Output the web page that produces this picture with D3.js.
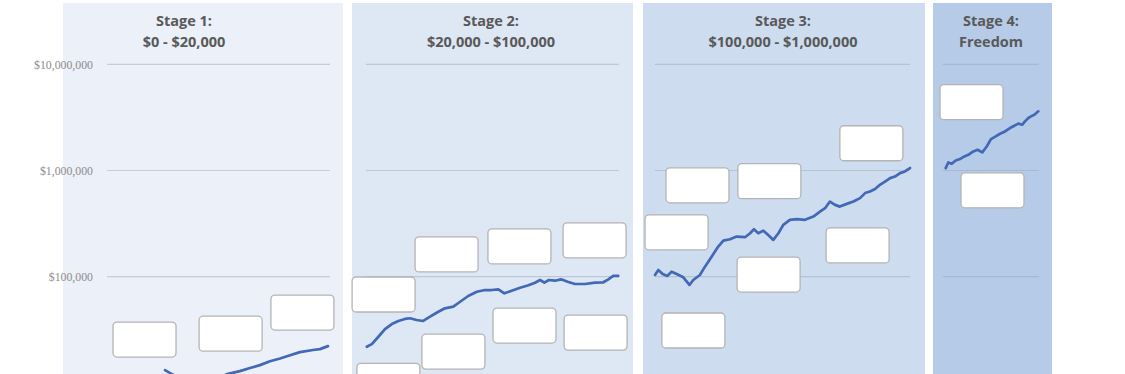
<!DOCTYPE html>
<html>
<head>
<meta charset="utf-8">
<script src="https://cdnjs.cloudflare.com/ajax/libs/d3/7.8.5/d3.min.js"></script>
<style>
  html, body { margin: 0; padding: 0; background: #ffffff; }
  svg { display: block; }
</style>
</head>
<body>
<svg id="chart" width="1125" height="374"></svg>
<script>
// ---------------- DATA ----------------
const stageTitles = ["Stage 1:", "Stage 2:", "Stage 3:", "Stage 4:"];
const stageSubtitles = ["$0 - $20,000", "$20,000 - $100,000", "$100,000 - $1,000,000", "Freedom"];
const yTickValues = [100000, 1000000, 10000000];

// time index (0-100 within each stage) and net worth in $
const stage1T = [26.0, 29.1, 35.0, 41.7, 48.4, 53.8, 59.6, 64.1, 68.6, 73.1, 77.6, 80.7, 86.5, 92.4, 95.5, 99.1];
const stage1V = [13200, 12100, 10600, 10000, 10600, 12100, 12900, 13800, 14700, 16000, 17000, 17800, 19500, 20400, 20800, 22200];

const stage2T = [0.3, 2.3, 4.9, 7.5, 10.2, 12.8, 15.4, 17.4, 20.0, 22.6, 25.3, 28.6, 31.2, 34.5, 37.2, 40.4, 43.8, 47.0, 49.7, 52.3, 54.7, 57.6, 60.9, 64.2, 66.8, 68.8, 70.5, 72.3, 74.7, 77.1, 79.7, 82.6, 86.6, 90.5, 93.8, 95.8, 97.7, 99.7];
const stage2V = [21900, 23200, 27200, 32100, 35800, 38300, 40000, 40600, 39100, 38300, 42000, 46800, 50400, 52200, 58100, 65800, 72200, 74900, 74900, 76100, 69700, 73800, 78800, 83000, 87800, 93100, 87800, 93100, 91700, 94500, 89700, 85400, 85400, 87800, 88600, 94500, 101600, 101600];

const stage3T = [0, 1.3, 3.0, 4.8, 6.5, 8.5, 11.1, 13.5, 15.0, 17.6, 19.6, 22.2, 24.8, 26.8, 29.4, 32.0, 35.3, 37.3, 38.8, 40.5, 42.5, 44.4, 46.4, 48.4, 50.3, 52.9, 55.6, 58.8, 62.1, 64.7, 66.7, 68.6, 70.6, 72.5, 75.2, 77.8, 80.4, 82.4, 84.3, 86.3, 88.2, 90.2, 92.2, 94.1, 96.1, 98.0, 100];
const stage3V = [103800, 115600, 106000, 101600, 111400, 106000, 98700, 83600, 93100, 103800, 124300, 154400, 192000, 218600, 225500, 238500, 235400, 256600, 279800, 256600, 271500, 247000, 222000, 256600, 307600, 342900, 348300, 342900, 368200, 410400, 441700, 510000, 474500, 457000, 485000, 510000, 549600, 612700, 634600, 668500, 733000, 787600, 847600, 877900, 944700, 979000, 1055000];

const stage4T = [2.8, 5.5, 9.1, 13.2, 17.7, 22.2, 26.4, 31.6, 36.1, 40.9, 45.5, 50.0, 54.9, 59.4, 64.6, 69.8, 74.3, 78.4, 82.6, 85.4, 88.9, 91.7, 95.1, 99.3];
const stage4V = [1054000, 1190000, 1157000, 1242000, 1281000, 1357000, 1406000, 1511000, 1567000, 1479000, 1684000, 1977000, 2093000, 2218000, 2333000, 2512000, 2641000, 2760000, 2698000, 2899000, 3121000, 3230000, 3352000, 3607000];

// blank annotation placeholders: top-left corner in (time index, $) per stage
const stage1BoxT = [2.7, 41.3, 73.5];
const stage1BoxV = [37400, 42500, 67200];
const stage2BoxT = [19.4, 48.2, 77.9, -5.5, 22.1, 50.2, 78.3, -3.6];
const stage2BoxV = [237000, 282000, 321000, 99400, 28800, 50700, 43500, 15300];
const stage3BoxT = [72.5, 4.3, 32.5, -3.9, 67.1, 32.2, 2.7];
const stage3BoxV = [2640000, 1060000, 1160000, 382000, 288000, 153000, 45500];
const stage4BoxT = [-3.1, 18.75];
const stage4BoxV = [6430000, 951000];

// ---------------- LAYOUT ----------------
const W = 1125, H = 374;
const panels = [
  { bg: [63, 343], plot: [107, 330], fill: "#ebf0f9", head: 184 },
  { bg: [352, 633], plot: [366, 619], fill: "#dee7f4", head: 491 },
  { bg: [643, 925], plot: [655, 910], fill: "#cddcef", head: 783 },
  { bg: [933, 1052], plot: [943, 1039], fill: "#b5cbe8", head: 991 }
];
const series = [
  { t: stage1T, v: stage1V, bt: stage1BoxT, bv: stage1BoxV },
  { t: stage2T, v: stage2V, bt: stage2BoxT, bv: stage2BoxV },
  { t: stage3T, v: stage3V, bt: stage3BoxT, bv: stage3BoxV },
  { t: stage4T, v: stage4V, bt: stage4BoxT, bv: stage4BoxV }
];
const boxW = 63, boxH = 35;

const svg = d3.select("#chart");
const y = d3.scaleLog().domain([1e5, 1e7]).range([276.7, 64.3]);

const defs = svg.append("defs");
const blur = defs.append("filter").attr("id", "soft").attr("x", "-5%").attr("y", "-5%").attr("width", "110%").attr("height", "110%");
blur.append("feGaussianBlur").attr("stdDeviation", 0.6);

// panels
svg.append("g").selectAll("rect").data(panels).join("rect")
  .attr("x", d => d.bg[0]).attr("y", 3)
  .attr("width", d => d.bg[1] - d.bg[0]).attr("height", H)
  .attr("fill", d => d.fill)
  .attr("filter", "url(#soft)");

// gridlines
panels.forEach(p => {
  svg.append("g").selectAll("line").data(yTickValues).join("line")
    .attr("x1", p.plot[0]).attr("x2", p.plot[1])
    .attr("y1", d => y(d)).attr("y2", d => y(d))
    .attr("stroke", "#98a2b0").attr("stroke-opacity", 0.45).attr("stroke-width", 1.2);
});

// y axis labels
const yAxis = d3.axisLeft(y).tickValues(yTickValues).tickSize(0).tickPadding(0)
  .tickFormat(d => "$" + d3.format(",")(d));
const ag = svg.append("g").attr("transform", "translate(93,0)").call(yAxis);
ag.select(".domain").remove();
ag.selectAll("text")
  .attr("font-family", "'Liberation Serif', serif")
  .attr("font-size", 11.8)
  .attr("fill", "#8c8c8c");

// headers
const hg = svg.append("g");
panels.forEach((p, i) => {
  hg.append("text").attr("x", p.head).attr("y", 26).attr("text-anchor", "middle")
    .attr("font-family", "'Open Sans', sans-serif").attr("font-weight", 700)
    .attr("font-size", 14.5).attr("fill", "#595959").text(stageTitles[i]);
  hg.append("text").attr("x", p.head).attr("y", 47).attr("text-anchor", "middle")
    .attr("font-family", "'Open Sans', sans-serif").attr("font-weight", 700)
    .attr("font-size", 14.5).attr("fill", "#595959").text(stageSubtitles[i]);
});

// lines
series.forEach((s, i) => {
  const p = panels[i];
  const x = d3.scaleLinear().domain([0, 100]).range(p.plot);
  const pts = s.t.map((t, k) => [t, s.v[k]]);
  const line = d3.line().x(d => x(d[0])).y(d => y(d[1])).curve(d3.curveLinear);
  svg.append("path").datum(pts)
    .attr("d", line)
    .attr("fill", "none")
    .attr("stroke", "#4169b6")
    .attr("stroke-width", 2.7)
    .attr("stroke-linejoin", "round")
    .attr("stroke-linecap", "round");
});

// placeholder boxes
series.forEach((s, i) => {
  const p = panels[i];
  const x = d3.scaleLinear().domain([0, 100]).range(p.plot);
  const bx = s.bt.map((t, k) => [t, s.bv[k]]);
  svg.append("g").selectAll("rect").data(bx).join("rect")
    .attr("x", d => x(d[0])).attr("y", d => y(d[1]))
    .attr("width", boxW).attr("height", boxH)
    .attr("rx", 4).attr("ry", 4)
    .attr("fill", "#ffffff")
    .attr("stroke", "#b4b4b4").attr("stroke-width", 1.3);
});
</script>
</body>
</html>
